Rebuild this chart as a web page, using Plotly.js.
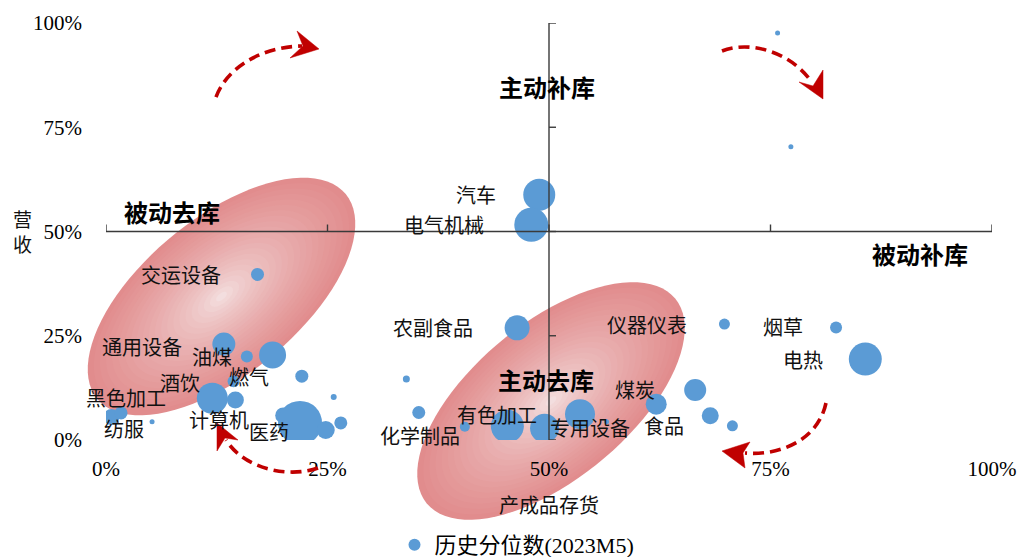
<!DOCTYPE html>
<html>
<head>
<meta charset="utf-8">
<script src="https://cdn.plot.ly/plotly-3.0.1.min.js"></script>
<style>
html,body{margin:0;padding:0;background:#fff;}
#chart{width:1019px;height:557px;}
</style>
</head>
<body>
<div id="chart"></div>
<script>
// ---------------- data ----------------
const seriesName = '历史分位数(2023M5)';
// x: 产成品存货 historical percentile (%), y: 营收 historical percentile (%)
const inventoryPct = [48.9, 48.0, 75.8, 77.3, 17.1, 13.3, 15.9, 18.8, 22.1, 25.7,
                      12.0, 14.6, 14.4, 20.0, 21.9, 24.8, 26.5, 0.6, 1.7, 5.2,
                      46.4, 33.9, 35.3, 40.5, 45.3, 49.5, 53.5, 56.5, 62.1, 66.5,
                      68.2, 70.7, 69.8, 82.4, 85.7];
const revenuePct   = [58.8, 51.6, 97.6, 70.3, 39.7, 23.0, 20.0, 20.4, 15.3, 10.3,
                      10.0, 9.6, 14.1, 5.9, 4.1, 2.4, 4.1, 5.5, 6.5, 4.4,
                      26.9, 14.6, 6.6, 3.2, 3.3, 2.8, 6.2, 4.4, 8.6, 12.0,
                      5.8, 3.4, 27.8, 27.0, 19.4];
const bubbleWeight = [32, 34, 5, 5, 13, 23, 12, 27, 13, 6,
                      31, 17, 12, 16, 44, 18, 13, 16, 13, 5,
                      25, 7, 13, 10, 33, 29, 30, 5, 21, 22,
                      17, 11, 11, 12, 33];
const tickVals = [0, 25, 50, 75, 100];
const tickText = ['0%', '25%', '50%', '75%', '100%'];
const industryLabels = ['汽车','电气机械','交运设备','通用设备','油煤','燃气','酒饮','黑色加工','纺服','计算机',
                        '医药','农副食品','化学制品','有色加工','非金属','专用设备','食品','煤炭','仪器仪表','烟草','电热'];
const quadrantLabels = ['主动补库','被动去库','被动补库','主动去库'];
const xTitle = '产成品存货';
const yTitle = '营收';

// ---------------- layout helpers ----------------
const L = 106, T = 23, W = 886, H = 417;
const SERIF = '"Liberation Serif", "Times New Roman", serif';
const CJK = '"Noto Sans CJK SC", sans-serif';
const MIX = '"Liberation Serif", "Noto Sans CJK SC", serif';

// label anchor points (data units), same order as industryLabels
const labelAt = [[41.8,58.8],[38.2,51.6],[8.5,39.6],[4.1,22.4],[12.0,20.1],[16.1,15.2],[8.4,13.7],[2.3,10.3],[2.0,2.7],[12.8,4.8],
                 [18.4,2.0],[36.9,26.9],[35.4,1.2],[44.1,6.0],[42.8,-3.4],[54.6,2.9],[63.0,3.4],[59.7,12.0],[61.1,27.6],[76.4,27.2],[78.7,19.2]];
const quadAt = [[49.8,84.7],[7.4,54.9],[91.9,44.8],[49.7,14.6]];

function toPaper(px, py){ return [(px - L) / W, (T + H - py) / H]; }
function fmt(p){ const q = toPaper(p[0], p[1]); return q[0].toFixed(5) + ',' + q[1].toFixed(5); }

function ellipsePath(cx, cy, a, b, deg, s){
  const th = deg * Math.PI / 180;
  let d = '';
  for (let i = 0; i <= 90; i++){
    const t = i / 90 * 2 * Math.PI;
    const ex = a * s * Math.cos(t), ey = b * s * Math.sin(t);
    const px = cx + ex * Math.cos(th) + ey * Math.sin(th);
    const py = cy - ex * Math.sin(th) + ey * Math.cos(th);
    d += (i ? 'L' : 'M') + fmt([px, py]);
  }
  return d + 'Z';
}

const shapes = [];
// gradient ellipses (decoration)
const edgeC = [225, 140, 141], centerC = [246, 234, 234];
const NL = 22;
[[221.5, 296.5], [551, 401]].forEach(function(c){
  for (let k = 0; k < NL; k++){
    const s = 1 - k * (0.96 / (NL - 1));
    const f = Math.pow(s, 0.65);
    const col = 'rgb(' + edgeC.map((e, i) => Math.round(centerC[i] + (e - centerC[i]) * f)).join(',') + ')';
    shapes.push({type:'path', xref:'paper', yref:'paper', layer:'below',
      path: ellipsePath(c[0], c[1], 161, 78, 39.5, s),
      fillcolor: col, line:{width:0}});
  }
});

// axis cross lines and ticks
const axisColor = '#3a3a3a';
shapes.push({type:'line', xref:'x', yref:'y', x0:0, x1:100, y0:50, y1:50, line:{color:axisColor, width:1.4}, layer:'above'});
shapes.push({type:'line', xref:'x', yref:'y', x0:50, x1:50, y0:0, y1:100, line:{color:axisColor, width:1.4}, layer:'above'});
tickVals.forEach(function(v){
  shapes.push({type:'line', xref:'x', yref:'y', x0:v, x1:v, ysizemode:'pixel', yanchor:50, y0:0, y1:7, line:{color:axisColor, width:1.4}});
  shapes.push({type:'line', xref:'x', yref:'y', y0:v, y1:v, xsizemode:'pixel', xanchor:50, x0:0, x1:7, line:{color:axisColor, width:1.4}});
});

// dashed curved arrows (decoration)
const red = '#C00000';
const arrows = [
  {c:[[216,97],[226,70],[258,47],[302,46]], h:[[319,49],[297,31],[303,46],[290,58]]},
  {c:[[722,51],[750,40],[790,52],[811,81]], h:[[823,99],[799,82],[813,86],[823,70]]},
  {c:[[826,403],[818,440],[780,456],[745,453]], h:[[722,451],[750,442],[743,453],[745,468]]},
  {c:[[318,468],[290,478],[245,470],[226,440]], h:[[217,423],[238,440],[225,438],[217,451]]}
];
arrows.forEach(function(a){
  shapes.push({type:'path', xref:'paper', yref:'paper', layer:'above',
    path: 'M' + fmt(a.c[0]) + ' C' + fmt(a.c[1]) + ' ' + fmt(a.c[2]) + ' ' + fmt(a.c[3]),
    line:{color:red, width:3.6, dash:'11px,6px'}, fillcolor:'rgba(0,0,0,0)'});
  shapes.push({type:'path', xref:'paper', yref:'paper', layer:'above',
    path: 'M' + a.h.map(fmt).join(' L') + ' Z',
    line:{color:red, width:0.5}, fillcolor:red});
});

// annotations
const annotations = [];
industryLabels.forEach(function(t, i){
  annotations.push({x:labelAt[i][0], y:labelAt[i][1], xref:'x', yref:'y', text:t, showarrow:false,
    xanchor:'center', yanchor:'middle', borderpad:0, font:{family:CJK, size:20, color:'#111'}});
});
quadrantLabels.forEach(function(t, i){
  annotations.push({x:quadAt[i][0], y:quadAt[i][1], xref:'x', yref:'y', text:'<b>' + t + '</b>', showarrow:false,
    xanchor:'center', yanchor:'middle', borderpad:0, font:{family:CJK, size:24, color:'#000'}});
});
annotations.push({x:(22 - L) / W, y:(T + H - 231) / H, xref:'paper', yref:'paper', text:yTitle.split('').join('<br>'),
  showarrow:false, xanchor:'center', yanchor:'middle', font:{family:CJK, size:19, color:'#111'}});

const trace = {
  type:'scatter', mode:'markers', name:seriesName,
  x: inventoryPct, y: revenuePct,
  marker:{size: bubbleWeight, sizemode:'diameter', sizeref:1, color:'#5B9BD5', line:{width:0}, opacity:1},
  cliponaxis:true, hoverinfo:'skip'
};

const layout = {
  width:1019, height:557,
  margin:{l:L, r:1019 - L - W, t:T, b:557 - T - H, pad:0, autoexpand:false},
  paper_bgcolor:'#ffffff', plot_bgcolor:'rgba(0,0,0,0)',
  showlegend:true,
  legend:{orientation:'h', x:(517 - L) / W, xanchor:'center', y:(T + H - 545) / H, yanchor:'middle',
    font:{family:MIX, size:22, color:'#000'}, itemsizing:'constant', bgcolor:'rgba(0,0,0,0)'},
  xaxis:{range:[0,100], tickvals:tickVals, ticktext:tickText, showgrid:false, zeroline:false, showline:false,
    ticks:'', tickfont:{family:SERIF, size:21, color:'#000'}, ticklabelstandoff:14, fixedrange:true,
    title:{text:xTitle, font:{family:CJK, size:20, color:'#111'}, standoff:18}},
  yaxis:{range:[0,100], tickvals:tickVals, ticktext:tickText, showgrid:false, zeroline:false, showline:false,
    ticks:'', tickfont:{family:SERIF, size:21, color:'#000'}, ticklabelstandoff:23, fixedrange:true},
  shapes: shapes,
  annotations: annotations
};

Plotly.newPlot('chart', [trace], layout, {displayModeBar:false, staticPlot:true});
</script>
</body>
</html>
